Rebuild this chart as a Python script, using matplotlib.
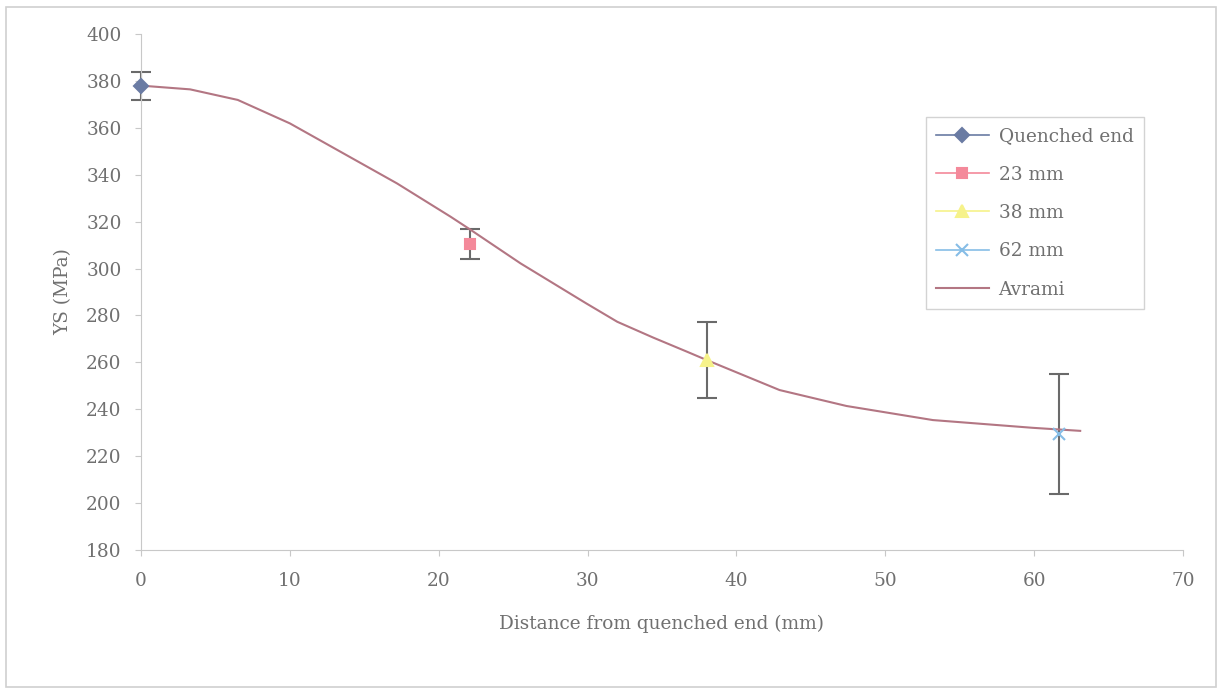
import matplotlib.pyplot as plt
from matplotlib.patches import Rectangle

plt.rcParams['font.family'] = ['DejaVu Serif', 'Liberation Serif']

# measured points with error bars
pt_names = ["Quenched end", "23 mm", "38 mm", "62 mm"]
pt_x = [0, 22.1, 38.0, 61.7]
pt_y = [378, 310.5, 261, 229.5]
pt_err = [6, 6.5, 16, 25.5]

# Avrami fit curve
avr_x = [0, 3.3, 6.5, 10, 13.6, 17.2, 20.8, 22.1, 25.5, 27.7, 29.9, 32.0, 34.4, 36.7, 38.0,
         42.9, 47.4, 53.2, 59.9, 63.1]
avr_y = [378, 376.4, 371.9, 361.9, 349.1, 336.3, 322.1, 316.7, 302.2, 293.7, 285.2, 277.3, 270.6,
         264.5, 261, 248.2, 241.4, 235.4, 232.1, 230.8]

styles = [("D", "#6a7ba3", 7), ("s", "#f4899a", 7), ("^", "#f6f28a", 8), ("x", "#86bde6", 8)]
txt = "#707070"
fs = 13.3

fig = plt.figure(figsize=(12.22, 6.9), dpi=100)
fig.patches.append(Rectangle((0.005, 0.005), 0.99, 0.985, transform=fig.transFigure,
                             fill=False, edgecolor="#d0d0d0", lw=1.2))
ax = fig.add_axes([0.1154, 0.2029, 0.8526, 0.7478])

for n, x, y, e, (m, c, ms) in zip(pt_names, pt_x, pt_y, pt_err, styles):
    ax.errorbar([x], [y], yerr=[e], fmt="none", ecolor="#6a6a6a", capsize=7, elinewidth=1.5,
                capthick=1.5, zorder=2, clip_on=False)
    ax.plot([x], [y], marker=m, color=c, ms=ms, mew=1.5, ls="-", lw=1.2, label=n, zorder=4,
            clip_on=False)

ax.plot(avr_x, avr_y, color="#b37683", lw=1.5, label="Avrami", zorder=3)

ax.set_xlim(0, 70)
ax.set_ylim(180, 400)
ax.set_xticks(range(0, 71, 10))
ax.set_yticks(range(180, 401, 20))
for s in ["top", "right"]:
    ax.spines[s].set_visible(False)
for s in ["left", "bottom"]:
    ax.spines[s].set_color("#c8c8c8")
ax.tick_params(colors="#c8c8c8", labelcolor=txt, labelsize=fs, length=4)
ax.tick_params(axis="x", pad=12)
ax.tick_params(axis="y", pad=10)
ax.set_xlabel("Distance from quenched end (mm)", fontsize=fs, color=txt, labelpad=18)
ax.set_ylabel("YS (MPa)", fontsize=fs, color=txt, labelpad=10)

leg = ax.legend(loc="upper left", bbox_to_anchor=(0.753, 0.839), fontsize=fs, frameon=True,
                fancybox=False, edgecolor="#c8c8c8", labelspacing=1.1, handlelength=2.9,
                handletextpad=0.5, borderpad=0.55, borderaxespad=0)
for t in leg.get_texts():
    t.set_color(txt)

fig.savefig("out.png", dpi=100)
